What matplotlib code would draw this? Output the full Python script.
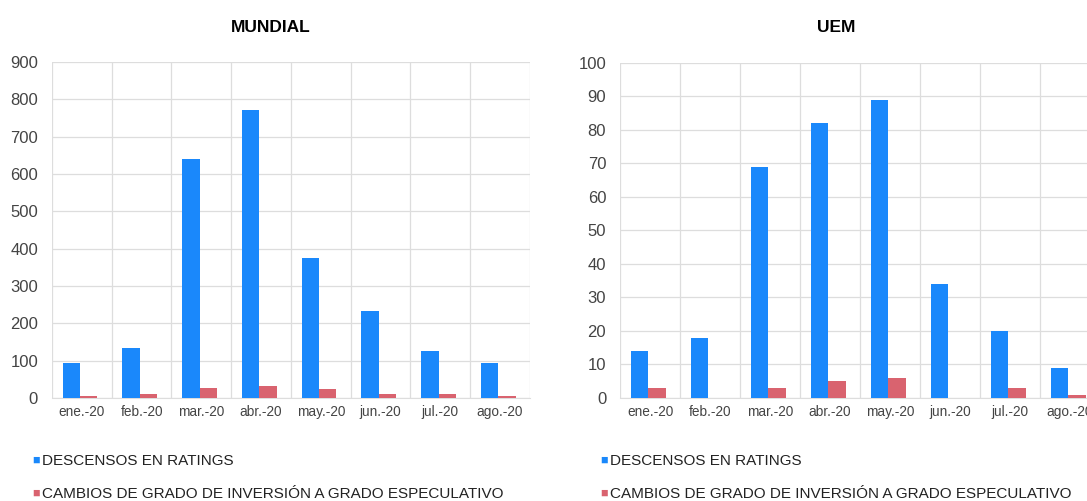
import matplotlib.pyplot as plt
import numpy as np

# Datos
meses = ["ene.-20", "feb.-20", "mar.-20", "abr.-20", "may.-20", "jun.-20", "jul.-20", "ago.-20"]

mundial_desc = [94, 134, 641, 772, 375, 233, 126, 94]
mundial_camb = [5, 10, 28, 32, 24, 10, 10, 5]

uem_desc = [14, 18, 69, 82, 89, 34, 20, 9]
uem_camb = [3, 0, 3, 5, 6, 0, 3, 1]

azul = "#1a88fb"
rojo = "#d9636f"
gris = "#dddddd"

plt.rcParams['font.family'] = ['Liberation Sans', 'DejaVu Sans']

fig = plt.figure(figsize=(10.87, 5.01), dpi=100)

def panel(rect, titulo, desc, camb, ymax, paso, tx, lx):
    ax = fig.add_axes(rect)
    x = np.arange(len(meses))
    w = 0.29
    ax.bar(x - w / 2 - 0.03, desc, width=w, color=azul, zorder=3)
    ax.bar(x + w / 2 - 0.03, camb, width=w, color=rojo, zorder=3)
    ax.set_xlim(-0.5, len(meses) - 0.5)
    ax.set_ylim(0, ymax)
    ax.set_yticks(np.arange(0, ymax + 1, paso))
    ax.set_xticks(x)
    ax.set_xticklabels(meses, fontsize=9.8, color="#444444")
    ax.set_xticks(np.arange(-0.5, len(meses)), minor=True)
    ax.grid(True, which="minor", axis="x", color=gris, lw=0.9, zorder=0)
    ax.grid(True, which="major", axis="y", color=gris, lw=0.9, zorder=0)
    ax.tick_params(axis="both", which="both", length=0)
    ax.tick_params(axis="y", labelsize=12, labelcolor="#444444", pad=10)
    ax.tick_params(axis="x", pad=5)
    for s in ["top", "right", "left"]:
        ax.spines[s].set_visible(False)
    ax.spines["bottom"].set_color(gris)
    fig.text(tx, 0.945, titulo, ha="center", va="center", fontsize=12.5, fontweight="bold")
    # leyenda
    fig.text(lx, 0.080, "\u25a0", color=azul, fontsize=9, va="center")
    fig.text(lx + 0.009, 0.080, "DESCENSOS EN RATINGS", fontsize=11, va="center", color="#222222")
    fig.text(lx, 0.014, "\u25a0", color=rojo, fontsize=9, va="center")
    fig.text(lx + 0.009, 0.014, "CAMBIOS DE GRADO DE INVERSIÓN A GRADO ESPECULATIVO", fontsize=11, va="center", color="#222222")
    return ax

panel([0.0478, 0.2056, 0.4397, 0.6707], "MUNDIAL", mundial_desc, mundial_camb, 900, 100, 0.249, 0.030)
panel([0.5704, 0.2056, 0.4416, 0.6687], "UEM", uem_desc, uem_camb, 100, 10, 0.769, 0.552)

fig.savefig("out.png", dpi=100)
